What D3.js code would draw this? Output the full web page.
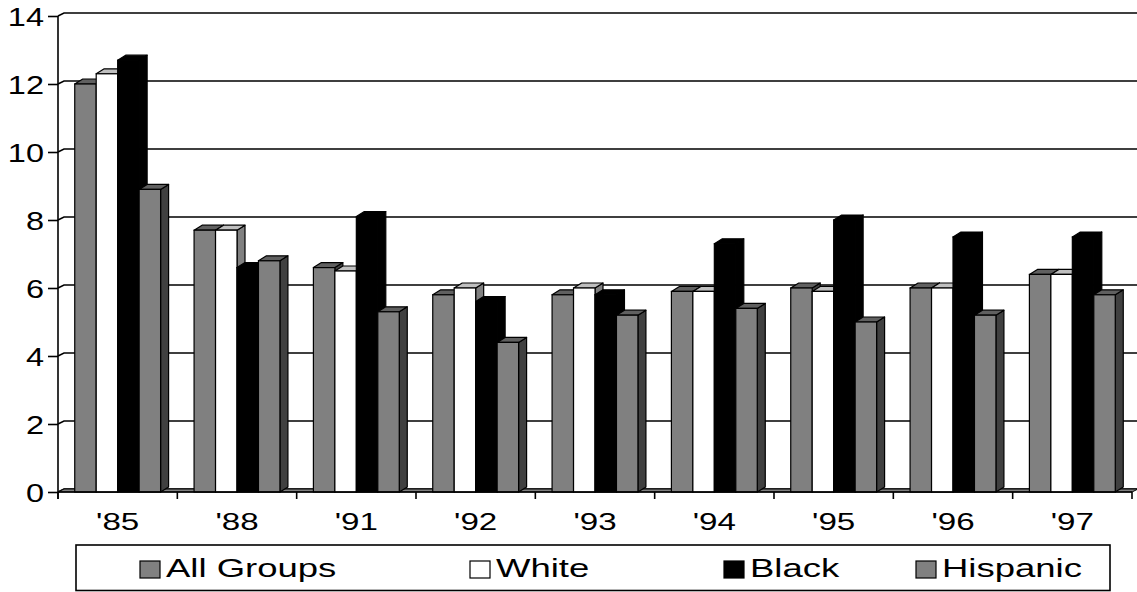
<!DOCTYPE html>
<html>
<head>
<meta charset="utf-8">
<script src="https://cdn.jsdelivr.net/npm/d3@7"></script>
<style>
  html, body { margin: 0; padding: 0; background: #fff; }
  svg { display: block; font-family: Arial, "Liberation Sans", sans-serif; }
</style>
</head>
<body>
<div id="chart"></div>
<script>
// 3D-style clustered columns, four groups per survey year.

const YEARS    = ["'85", "'88", "'91", "'92", "'93", "'94", "'95", "'96", "'97"];
const SERIES   = ["All Groups", "White", "Black", "Hispanic"];
const ALL      = [12.0, 7.7, 6.6, 5.8, 5.8, 5.9, 6.0, 6.0, 6.4];
const WHITE    = [12.3, 7.7, 6.5, 6.0, 6.0, 5.9, 5.9, 6.0, 6.4];
const BLACK    = [12.7, 6.6, 8.1, 5.6, 5.8, 7.3, 8.0, 7.5, 7.5];
const HISPANIC = [8.9, 6.8, 5.3, 4.4, 5.2, 5.4, 5.0, 5.2, 5.8];
const Y_TICKS  = [0, 2, 4, 6, 8, 10, 12, 14];

const VALUES = [ALL, WHITE, BLACK, HISPANIC];
const FILL   = ["#808080", "#ffffff", "#000000", "#808080"];

const W = 1137, H = 592;
const X0 = 58, X1 = 1132;        // front plot edges
const Y_BOT = 492, Y_TOP = 16;   // front value range
const WALL = { dx: 6, dy: -3 };  // back wall offset
const BAR  = { dx: 8, dy: -5 };  // column depth

const svg = d3.select("#chart").append("svg")
  .attr("width", W)
  .attr("height", H);

// ── Scales ──────────────────────────────────────────────────────────────────

const x = d3.scaleBand().domain(YEARS).range([X0, X1]).paddingInner(0).paddingOuter(0);
const xs = d3.scaleBand().domain(SERIES).range([0, x.bandwidth()]).paddingInner(0).paddingOuter(0.78);
const y = d3.scaleLinear().domain([0, 14]).range([Y_BOT, Y_TOP]);

const shade = (c, k) => {
  const r = d3.rgb(c);
  return d3.rgb(r.r * k, r.g * k, r.b * k).formatHex();
};

// ── Back wall gridlines ─────────────────────────────────────────────────────

svg.append("g")
  .selectAll("polyline")
  .data(Y_TICKS)
  .join("polyline")
    .attr("points", d => [
      [X0, y(d)], [X0 + WALL.dx, y(d) + WALL.dy], [W, y(d) + WALL.dy]
    ].join(" "))
    .attr("fill", "none")
    .attr("stroke", "#000")
    .attr("stroke-width", 1.6);

// ── Floor ───────────────────────────────────────────────────────────────────

svg.append("polygon")
  .attr("points", [
    [X0, Y_BOT], [X1, Y_BOT], [X1 + WALL.dx, Y_BOT + WALL.dy], [X0 + WALL.dx, Y_BOT + WALL.dy]
  ].join(" "))
  .attr("fill", "#808080")
  .attr("stroke", "#000")
  .attr("stroke-width", 1);

// ── Columns ─────────────────────────────────────────────────────────────────

const bars = svg.append("g");
YEARS.forEach((yr, i) => {
  SERIES.forEach((s, j) => {
    const v  = VALUES[j][i];
    const c  = FILL[j];
    const xa = x(yr) + xs(s);
    const xb = xa + xs.bandwidth();
    const yt = y(v);
    const yb = y(0);

    bars.append("polygon")
      .attr("points", [[xb, yt], [xb + BAR.dx, yt + BAR.dy], [xb + BAR.dx, yb + BAR.dy], [xb, yb]].join(" "))
      .attr("fill", shade(c, 0.5)).attr("stroke", "#000").attr("stroke-width", 1.2)
      .attr("stroke-linejoin", "round");

    bars.append("polygon")
      .attr("points", [[xa, yt], [xa + BAR.dx, yt + BAR.dy], [xb + BAR.dx, yt + BAR.dy], [xb, yt]].join(" "))
      .attr("fill", shade(c, 0.75)).attr("stroke", "#000").attr("stroke-width", 1.2)
      .attr("stroke-linejoin", "round");

    bars.append("rect")
      .attr("x", xa).attr("y", yt)
      .attr("width", xb - xa).attr("height", yb - yt)
      .attr("fill", c).attr("stroke", "#000").attr("stroke-width", 1.2);
  });
});

// ── Axes ────────────────────────────────────────────────────────────────────

const yAxis = svg.append("g")
  .attr("transform", `translate(${X0},0)`)
  .call(d3.axisLeft(y).tickValues(Y_TICKS).tickSize(10).tickPadding(0).tickFormat(d3.format("d")));
yAxis.select(".domain").remove();
yAxis.selectAll(".tick line").attr("stroke", "#000").attr("stroke-width", 1.6);
yAxis.selectAll(".tick text")
  .attr("x", null).attr("dy", null)
  .attr("transform", "translate(-14,9) scale(1.3,1)")
  .style("font-size", "25px")
  .style("fill", "#000")
  .attr("text-anchor", "end");

svg.append("line")
  .attr("x1", X0).attr("x2", X0)
  .attr("y1", Y_TOP).attr("y2", Y_BOT + 7)
  .attr("stroke", "#000").attr("stroke-width", 1.6);

svg.append("line")
  .attr("x1", X0).attr("x2", X1)
  .attr("y1", Y_BOT).attr("y2", Y_BOT)
  .attr("stroke", "#000").attr("stroke-width", 1.6);

svg.append("g")
  .selectAll("line")
  .data(d3.range(YEARS.length + 1))
  .join("line")
    .attr("x1", d => X0 + d * x.step()).attr("x2", d => X0 + d * x.step())
    .attr("y1", Y_BOT).attr("y2", Y_BOT + 7)
    .attr("stroke", "#000").attr("stroke-width", 1.6);

svg.append("g")
  .selectAll("text")
  .data(YEARS)
  .join("text")
    .attr("transform", d => `translate(${x(d) + x.bandwidth() / 2},530) scale(1.38,1)`)
    .attr("text-anchor", "middle")
    .style("font-size", "24px")
    .text(d => d);

// ── Legend ──────────────────────────────────────────────────────────────────

const LEG_X = [140, 470, 724, 916];

const legend = svg.append("g");
legend.append("rect")
  .attr("x", 76).attr("y", 545)
  .attr("width", 1110 - 76).attr("height", 45.5)
  .attr("fill", "#fff").attr("stroke", "#000").attr("stroke-width", 1.6);

SERIES.forEach((s, j) => {
  legend.append("rect")
    .attr("x", LEG_X[j]).attr("y", 561)
    .attr("width", 20).attr("height", 17)
    .attr("fill", FILL[j]).attr("stroke", "#000").attr("stroke-width", 1.2);
  legend.append("text")
    .attr("transform", `translate(${LEG_X[j] + 26},577) scale(1.46,1)`)
    .style("font-size", "25px")
    .text(s);
});
</script>
</body>
</html>
